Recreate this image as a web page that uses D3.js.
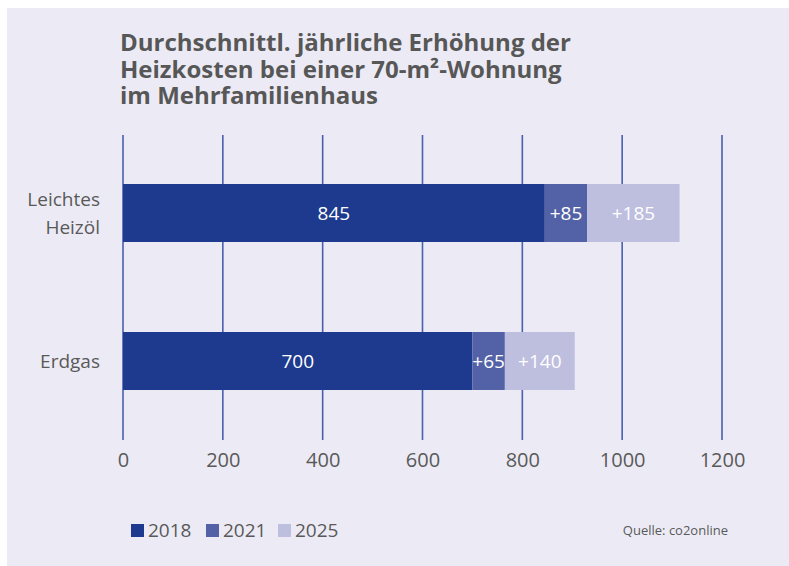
<!DOCTYPE html>
<html>
<head>
<meta charset="utf-8">
<script src="https://cdn.jsdelivr.net/npm/d3@7"></script>
<style>
  body { margin: 0; background: #fff; }
  svg { display: block; }
</style>
</head>
<body>
<div id="chart"></div>
<script>
// data
const categories = ["Leichtes Heizöl", "Erdgas"];
const years = ["2018", "2021", "2025"];
const base2018 = [845, 700];
const plus2021 = [85, 65];
const plus2025 = [185, 140];
const xTicks = [0, 200, 400, 600, 800, 1000, 1200];

const colors = ["#1d3a8e", "#5362a7", "#bebedf"];

const W = 789, H = 566;

const svg = d3.select("#chart").append("svg")
    .attr("width", W)
    .attr("height", H);

// panel background
svg.append("rect")
    .attr("x", 7).attr("y", 8)
    .attr("width", W - 7).attr("height", H - 8)
    .attr("fill", "#ecebf5");

// title, one text per line
const title = ["Durchschnittl. jährliche Erhöhung der",
               "Heizkosten bei einer 70-m²-Wohnung",
               "im Mehrfamilienhaus"];
svg.append("g")
    .selectAll("text")
    .data(title)
    .enter()
    .append("text")
    .attr("x", 120)
    .attr("y", (d, i) => 51 + i * 26.5)
    .style("font-family", "'Open Sans', sans-serif")
    .style("font-size", "24px")
    .style("font-weight", 700)
    .attr("fill", "#575757")
    .text(d => d);

// scales
const x = d3.scaleLinear().domain([0, 1200]).range([123, 722]);
const y = d3.scalePoint().domain(categories).range([213, 361]);

// gridlines
svg.append("g")
    .selectAll("line")
    .data(xTicks)
    .enter()
    .append("line")
    .attr("x1", d => x(d)).attr("x2", d => x(d))
    .attr("y1", 135).attr("y2", 440)
    .attr("stroke", "#4a5fae")
    .attr("stroke-width", 1.6);

// x axis labels
const xAxis = d3.axisBottom(x).tickValues(xTicks).tickFormat(d3.format("d")).tickSize(0).tickPadding(0);
const axisG = svg.append("g")
    .attr("transform", "translate(0, 453)")
    .call(xAxis);
axisG.select(".domain").remove();
axisG.selectAll("text")
    .style("font-family", "'Open Sans', sans-serif")
    .style("font-size", "20px")
    .attr("fill", "#595959");

// stacked data
const rows = categories.map((c, i) => ({
    cat: c,
    "2018": base2018[i],
    "2021": plus2021[i],
    "2025": plus2025[i]
}));
const stack = d3.stack().keys(years)(rows);

const bh = 58;
stack.forEach((layer, li) => {
    const g = svg.append("g");
    g.selectAll("rect")
        .data(layer)
        .enter()
        .append("rect")
        .attr("x", d => x(d[0]))
        .attr("width", d => x(d[1]) - x(d[0]))
        .attr("y", d => y(d.data.cat) - bh / 2)
        .attr("height", bh)
        .attr("fill", colors[li]);
    g.selectAll("text")
        .data(layer)
        .enter()
        .append("text")
        .attr("x", d => (x(d[0]) + x(d[1])) / 2)
        .attr("y", d => y(d.data.cat) + 7)
        .attr("text-anchor", "middle")
        .style("font-family", "'Open Sans', sans-serif")
        .style("font-size", "19px")
        .attr("fill", "#ffffff")
        .text(d => (li === 0 ? "" : "+") + (d[1] - d[0]));
});

// category labels
const catLines = [["Leichtes", "Heizöl"], ["Erdgas"]];
categories.forEach((c, i) => {
    const lines = catLines[i];
    const cy = y(c);
    svg.append("g")
        .selectAll("text")
        .data(lines)
        .enter()
        .append("text")
        .attr("text-anchor", "end")
        .attr("x", 100)
        .attr("y", (d, j) => cy + 7 + (j - (lines.length - 1) / 2) * 28)
        .style("font-family", "'Open Sans', sans-serif")
        .style("font-size", "19px")
        .attr("fill", "#595959")
        .text(d => d);
});

// legend
const legend = svg.append("g").attr("transform", "translate(131, 530)");
const lx = [0, 75, 147];
years.forEach((yr, i) => {
    legend.append("rect")
        .attr("x", lx[i]).attr("y", -6)
        .attr("width", 13).attr("height", 13)
        .attr("fill", colors[i]);
    legend.append("text")
        .attr("x", lx[i] + 17).attr("y", 7)
        .style("font-family", "'Open Sans', sans-serif")
        .style("font-size", "19px")
        .attr("fill", "#595959")
        .text(yr);
});

svg.append("text")
    .attr("x", 728).attr("y", 535)
    .attr("text-anchor", "end")
    .style("font-family", "'Open Sans', sans-serif")
    .style("font-size", "13px")
    .attr("fill", "#595959")
    .text("Quelle: co2online");
</script>
</body>
</html>
